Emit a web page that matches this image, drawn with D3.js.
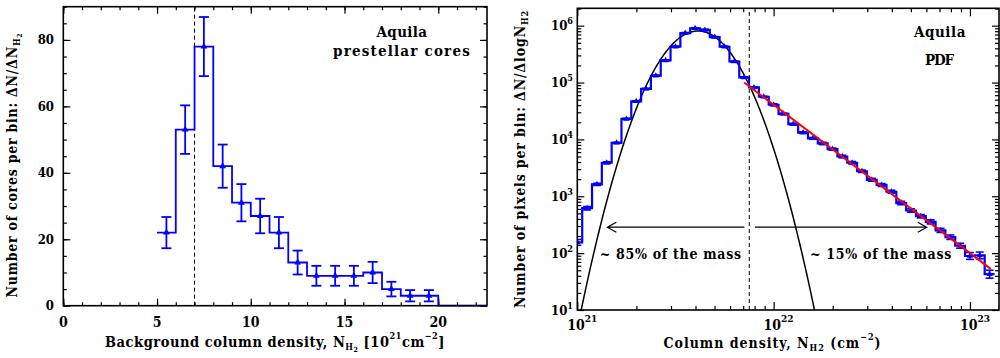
<!DOCTYPE html>
<html>
<head>
<meta charset="utf-8">
<script src="https://cdn.jsdelivr.net/npm/d3@7"></script>
<style>
body { margin: 0; background: #fff; }
svg { display: block; }
text { font-family: "DejaVu Serif Condensed", "DejaVu Serif", serif; font-weight: bold; fill: #000; }
</style>
</head>
<body>
<script>
// ---- left panel: prestellar cores per background column density bin ----
const coreBinCenters = [5.5, 6.5, 7.5, 8.5, 9.5, 10.5, 11.5, 12.5, 13.5, 14.5, 15.5, 16.5, 17.5, 18.5, 19.5, 20.5, 21.5, 22.5];
const coreCounts = [22, 53, 78, 42, 31, 27, 22, 13, 9, 9, 9, 10, 5, 3, 3, 0, 0, 0];
const coreErrors = [4.7, 7.3, 8.9, 6.5, 5.6, 5.2, 4.7, 3.6, 3.0, 3.0, 3.0, 3.2, 2.2, 1.7, 1.7];
const coreXTicks = [0, 5, 10, 15, 20];
const coreYTicks = [0, 20, 40, 60, 80];
const coreThreshold = 7;

// ---- right panel: column density PDF (log10 of pixel counts per bin) ----
const pdfLogN = [21.00, 21.05, 21.10, 21.15, 21.20, 21.25, 21.30, 21.35, 21.40, 21.45,
                 21.50, 21.55, 21.60, 21.65, 21.70, 21.75, 21.80, 21.85, 21.90, 21.95,
                 22.00, 22.05, 22.10, 22.15, 22.20, 22.25, 22.30, 22.35, 22.40, 22.45,
                 22.50, 22.55, 22.60, 22.65, 22.70, 22.75, 22.80, 22.85, 22.90, 22.95,
                 23.00, 23.05, 23.10];
const pdfLogCounts = [2.19, 2.79, 3.21, 3.59, 3.94, 4.36, 4.67, 4.89, 5.12, 5.39,
                      5.63, 5.87, 5.955, 5.925, 5.80, 5.63, 5.37, 5.09, 4.915, 4.75,
                      4.61, 4.45, 4.27, 4.12, 4.02, 3.93, 3.83, 3.70, 3.59, 3.44,
                      3.29, 3.20, 3.08, 2.88, 2.75, 2.65, 2.55, 2.40, 2.28, 2.13,
                      1.95, 1.96, 1.63];
const pdfLogErrors = [0.05, 0.03, 0.02, 0.015, 0.01, 0.01, 0.01, 0.01, 0.01, 0.01,
                      0.01, 0.01, 0.01, 0.01, 0.01, 0.01, 0.01, 0.01, 0.01, 0.01,
                      0.015, 0.015, 0.015, 0.015, 0.015, 0.02, 0.02, 0.02, 0.02, 0.02,
                      0.025, 0.025, 0.025, 0.03, 0.03, 0.03, 0.035, 0.035, 0.04, 0.045,
                      0.06, 0.06, 0.07];
const lognormalFit = { peakLogN: 21.614, sigma: 0.125, peakLogCount: 5.907 };
const powerLawLogN = [21.85, 23.106];
const powerLawLogCount = [5.0, 1.724];
const pdfThresholdLogN = 21.876;
const massArrows = [[21.851, 21.153], [21.905, 22.78]]; // [tail, tip] in log N
const massArrowLogCount = 2.457;
const massLabels = ["~ 85% of the mass", "~ 15% of the mass"];
const massLabelLogN = [21.476, 22.547];
const massLabelLogCount = 1.891;

const blue = "#0000ff";
const svg = d3.select("body").append("svg").attr("width", 1000).attr("height", 358);

function ticks(scale, orient, pos, values, size) {
  const axis = { bottom: d3.axisBottom, top: d3.axisTop, left: d3.axisLeft, right: d3.axisRight }[orient](scale)
    .tickValues(values).tickSize(-size).tickFormat("");
  const g = svg.append("g")
    .attr("transform", (orient === "bottom" || orient === "top") ? `translate(0,${pos})` : `translate(${pos},0)`)
    .call(axis);
  g.select(".domain").remove();
  g.selectAll("line").attr("stroke", "#000").attr("stroke-width", 1.2);
}

// squeeze or stretch a text to a measured width
function fit(sel, target) {
  const n = sel.node();
  const len = n.getComputedTextLength();
  sel.style("letter-spacing", ((target - len) / n.textContent.length) + "px");
  return sel;
}

// ================= left panel =================
const L = { left: 63.3, right: 487, top: 6.7, bottom: 305.7 };
const xL = d3.scaleLinear().domain([0, 22.6]).range([L.left, L.right]);
const yL = d3.scaleLinear().domain([0, 90]).range([L.bottom, L.top]);

ticks(xL, "bottom", L.bottom, coreXTicks, 7);
ticks(xL, "bottom", L.bottom, d3.range(0, 23, 1), 3.5);
ticks(xL, "top", L.top, coreXTicks, 7);
ticks(xL, "top", L.top, d3.range(0, 23, 1), 3.5);
ticks(yL, "left", L.left, coreYTicks, 7);
ticks(yL, "left", L.left, d3.range(0, 91, 5), 3.5);
ticks(yL, "right", L.right, coreYTicks, 7);
ticks(yL, "right", L.right, d3.range(0, 91, 5), 3.5);

svg.selectAll(".lxt").data(coreXTicks).enter().append("text")
  .attr("x", d => xL(d)).attr("y", 326.7).attr("text-anchor", "middle")
  .attr("font-size", 14).text(d => d);
svg.selectAll(".lyt").data(coreYTicks).enter().append("text")
  .attr("x", 54).attr("y", d => yL(d) + 4.5).attr("text-anchor", "end")
  .attr("font-size", 13).text(d => d);

svg.append("clipPath").attr("id", "clipL").append("rect")
  .attr("x", L.left).attr("y", L.top - 2).attr("width", L.right - L.left).attr("height", L.bottom - L.top + 4);

svg.append("line")
  .attr("x1", xL(coreThreshold)).attr("x2", xL(coreThreshold))
  .attr("y1", L.bottom).attr("y2", L.top)
  .attr("stroke", "#000").attr("stroke-width", 1).attr("stroke-dasharray", "4,3");

const coreSteps = [[coreBinCenters[0] - 0.5, coreCounts[0]]]
  .concat(coreBinCenters.map((c, i) => [c, coreCounts[i]]))
  .concat([[coreBinCenters[coreBinCenters.length - 1] + 0.5, coreCounts[coreCounts.length - 1]]]);
svg.append("path")
  .datum(coreSteps)
  .attr("clip-path", "url(#clipL)")
  .attr("d", d3.line().x(d => xL(d[0])).y(d => yL(d[1])).curve(d3.curveStep))
  .attr("fill", "none").attr("stroke", blue).attr("stroke-width", 1.8);

const coreBars = svg.append("g").attr("stroke", blue).attr("stroke-width", 1.8);
coreErrors.forEach((e, i) => {
  const x = xL(coreBinCenters[i]);
  const y0 = yL(coreCounts[i] - e), y1 = yL(coreCounts[i] + e);
  coreBars.append("line").attr("x1", x).attr("x2", x).attr("y1", y0).attr("y2", y1);
  coreBars.append("line").attr("x1", x - 5).attr("x2", x + 5).attr("y1", y0).attr("y2", y0);
  coreBars.append("line").attr("x1", x - 5).attr("x2", x + 5).attr("y1", y1).attr("y2", y1);
});
svg.selectAll(".lmark").data(coreErrors).enter().append("path")
  .attr("d", d3.symbol(d3.symbolTriangle).size(20))
  .attr("transform", (d, i) => `translate(${xL(coreBinCenters[i])},${yL(coreCounts[i])})`)
  .attr("fill", blue);

svg.append("rect")
  .attr("x", L.left).attr("y", L.top).attr("width", L.right - L.left).attr("height", L.bottom - L.top)
  .attr("fill", "none").attr("stroke", "#000").attr("stroke-width", 1.6);

fit(svg.append("text").attr("x", 402).attr("y", 37.3).attr("text-anchor", "middle").attr("font-size", 15).text("Aquila"), 51);
fit(svg.append("text").attr("x", 402).attr("y", 56).attr("text-anchor", "middle").attr("font-size", 15).text("prestellar cores"), 138);

const lxl = svg.append("text").attr("x", 275).attr("y", 347).attr("text-anchor", "middle").attr("font-size", 14.5);
lxl.append("tspan").text("Background column density, N");
lxl.append("tspan").attr("dy", 3).attr("font-size", 9).text("H");
lxl.append("tspan").attr("dy", 2).attr("font-size", 7).text("2");
lxl.append("tspan").attr("dy", -5).text(" [10");
lxl.append("tspan").attr("dy", -8).attr("font-size", 9).text("21");
lxl.append("tspan").attr("dy", 8).text("cm");
lxl.append("tspan").attr("dy", -8).attr("font-size", 9).text("\u22122");
lxl.append("tspan").attr("dy", 8).text("]");
fit(lxl, 340);

const lyl = svg.append("text").attr("transform", "translate(17.3,165) rotate(-90)")
  .attr("text-anchor", "middle").attr("font-size", 14);
lyl.append("tspan").text("Number of cores per bin: \u0394N/\u0394N");
lyl.append("tspan").attr("dy", 3).attr("font-size", 9).text("H");
lyl.append("tspan").attr("dy", 2).attr("font-size", 7).text("2");
fit(lyl, 265);

// ================= right panel =================
const R = { left: 577.3, right: 999, top: 8.3, bottom: 310 };
const xR = d3.scaleLog().domain([1e21, Math.pow(10, 23.148)]).range([R.left, R.right]);
const yR = d3.scaleLog().domain([10, Math.pow(10, 6.306)]).range([R.bottom, R.top]);

const xMajor = [1e21, 1e22, 1e23];
const yMajor = [1e1, 1e2, 1e3, 1e4, 1e5, 1e6];
const minorOf = (decades, dom) => decades.flatMap(p => d3.range(2, 10).map(k => k * p))
  .filter(v => v > dom[0] && v < dom[1]);
const xMinor = minorOf(xMajor, xR.domain());
const yMinor = minorOf(yMajor, yR.domain());

ticks(xR, "bottom", R.bottom, xMajor, 8);
ticks(xR, "bottom", R.bottom, xMinor, 4);
ticks(xR, "top", R.top, xMajor, 8);
ticks(xR, "top", R.top, xMinor, 4);
ticks(yR, "left", R.left, yMajor, 7);
ticks(yR, "left", R.left, yMinor, 4);
ticks(yR, "right", R.right, yMajor, 7);
ticks(yR, "right", R.right, yMinor, 4);

xMajor.forEach(v => {
  const t = svg.append("text").attr("x", xR(v) + 5).attr("y", 330).attr("text-anchor", "middle").attr("font-size", 14);
  t.append("tspan").text("10");
  t.append("tspan").attr("dy", -8).attr("font-size", 10).text(Math.round(Math.log10(v)));
});
yMajor.forEach(v => {
  const t = svg.append("text").attr("x", 573).attr("y", yR(v) + 4.5).attr("text-anchor", "end").attr("font-size", 13);
  t.append("tspan").text("10");
  t.append("tspan").attr("dy", -6).attr("font-size", 9).text(Math.round(Math.log10(v)));
});

svg.append("clipPath").attr("id", "clipR").append("rect")
  .attr("x", R.left).attr("y", R.top).attr("width", R.right - R.left).attr("height", R.bottom - R.top);

svg.append("line")
  .attr("x1", xR(Math.pow(10, pdfThresholdLogN))).attr("x2", xR(Math.pow(10, pdfThresholdLogN)))
  .attr("y1", R.bottom).attr("y2", R.top)
  .attr("stroke", "#000").attr("stroke-width", 1).attr("stroke-dasharray", "4,3");

// log-normal fit
const lnPts = d3.range(20.9, 22.4, 0.005)
  .map(x => [x, lognormalFit.peakLogCount - Math.LOG10E * (x - lognormalFit.peakLogN) ** 2 / (2 * lognormalFit.sigma ** 2)])
  .filter(d => d[1] > 0);
svg.append("path")
  .datum(lnPts)
  .attr("clip-path", "url(#clipR)")
  .attr("d", d3.line().x(d => xR(Math.pow(10, d[0]))).y(d => yR(Math.pow(10, d[1]))))
  .attr("fill", "none").attr("stroke", "#000").attr("stroke-width", 1.5);

const pdfSteps = [[pdfLogN[0] - 0.025, pdfLogCounts[0]]]
  .concat(pdfLogN.map((c, i) => [c, pdfLogCounts[i]]))
  .concat([[pdfLogN[pdfLogN.length - 1] + 0.025, pdfLogCounts[pdfLogCounts.length - 1]]]);
svg.append("path")
  .datum(pdfSteps)
  .attr("clip-path", "url(#clipR)")
  .attr("d", d3.line().x(d => xR(Math.pow(10, d[0]))).y(d => yR(Math.pow(10, d[1]))).curve(d3.curveStep))
  .attr("fill", "none").attr("stroke", blue).attr("stroke-width", 2.2);

const pdfBars = svg.append("g").attr("clip-path", "url(#clipR)").attr("stroke", blue).attr("stroke-width", 1.6);
pdfLogErrors.forEach((e, i) => {
  const x = xR(Math.pow(10, pdfLogN[i]));
  const y0 = yR(Math.pow(10, pdfLogCounts[i] - e)), y1 = yR(Math.pow(10, pdfLogCounts[i] + e));
  pdfBars.append("line").attr("x1", x).attr("x2", x).attr("y1", y0).attr("y2", y1);
  pdfBars.append("line").attr("x1", x - 4).attr("x2", x + 4).attr("y1", y0).attr("y2", y0);
  pdfBars.append("line").attr("x1", x - 4).attr("x2", x + 4).attr("y1", y1).attr("y2", y1);
});
svg.append("g").attr("clip-path", "url(#clipR)")
  .selectAll("path").data(pdfLogN).enter().append("path")
  .attr("d", d3.symbol(d3.symbolTriangle).size(16))
  .attr("transform", (d, i) => `translate(${xR(Math.pow(10, d))},${yR(Math.pow(10, pdfLogCounts[i]))})`)
  .attr("fill", blue);

// power-law fit
svg.append("line")
  .attr("x1", xR(Math.pow(10, powerLawLogN[0]))).attr("y1", yR(Math.pow(10, powerLawLogCount[0])))
  .attr("x2", xR(Math.pow(10, powerLawLogN[1]))).attr("y2", yR(Math.pow(10, powerLawLogCount[1])))
  .attr("stroke", "#ff0000").attr("stroke-width", 2);

// mass arrows
const ay = yR(Math.pow(10, massArrowLogCount));
massArrows.forEach(([from, tip]) => {
  const x0 = xR(Math.pow(10, from)), x1 = xR(Math.pow(10, tip));
  const s = x1 > x0 ? -1 : 1;
  svg.append("path")
    .attr("d", `M${x0},${ay}L${x1},${ay}M${x1 + s * 9},${ay - 5}L${x1},${ay}L${x1 + s * 9},${ay + 5}`)
    .attr("fill", "none").attr("stroke", "#000").attr("stroke-width", 1.2);
});
massLabels.forEach((m, i) => {
  fit(svg.append("text")
    .attr("x", xR(Math.pow(10, massLabelLogN[i]))).attr("y", yR(Math.pow(10, massLabelLogCount)))
    .attr("text-anchor", "middle").attr("font-size", 14).text(m), 142);
});

svg.append("rect")
  .attr("x", R.left).attr("y", R.top).attr("width", R.right - R.left).attr("height", R.bottom - R.top)
  .attr("fill", "none").attr("stroke", "#000").attr("stroke-width", 1.6);

fit(svg.append("text").attr("x", 940).attr("y", 37.3).attr("text-anchor", "middle").attr("font-size", 15).text("Aquila"), 52);
fit(svg.append("text").attr("x", 939).attr("y", 65).attr("text-anchor", "middle").attr("font-size", 15).text("PDF"), 28);

const rxl = svg.append("text").attr("x", 772.5).attr("y", 347.5).attr("text-anchor", "middle").attr("font-size", 14);
rxl.append("tspan").text("Column density, N");
rxl.append("tspan").attr("dy", 3).attr("font-size", 9).text("H2");
rxl.append("tspan").attr("dy", -3).text(" (cm");
rxl.append("tspan").attr("dy", -8).attr("font-size", 9).text("\u22122");
rxl.append("tspan").attr("dy", 8).text(")");
fit(rxl, 218);

const ryl = svg.append("text").attr("transform", "translate(525,159) rotate(-90)")
  .attr("text-anchor", "middle").attr("font-size", 14);
ryl.append("tspan").text("Number of pixels per bin: \u0394N/\u0394logN");
ryl.append("tspan").attr("dy", 3).attr("font-size", 9).text("H2");
fit(ryl, 298);
</script>
</body>
</html>
